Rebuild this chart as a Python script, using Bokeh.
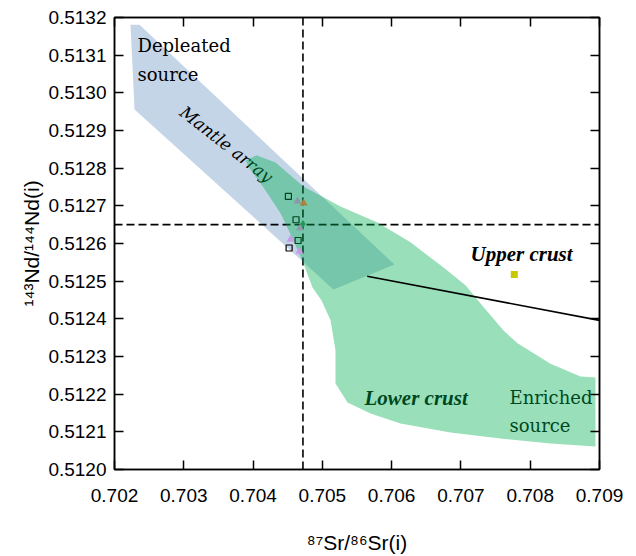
import math
from bokeh.plotting import figure
from bokeh.models import (Range1d, FixedTicker, LinearAxis, NumeralTickFormatter,
                          CustomJSTickFormatter)
from bokeh.core.properties import value
from bokeh.embed import file_html
from bokeh.resources import INLINE

# ---------------- data ----------------
x_ticks = [0.702, 0.703, 0.704, 0.705, 0.706, 0.707, 0.708, 0.709]
y_ticks = [0.5120, 0.5121, 0.5122, 0.5123, 0.5124, 0.5125, 0.5126,
           0.5127, 0.5128, 0.5129, 0.5130, 0.5131, 0.5132]
x_title = "⁸⁷Sr/⁸⁶Sr(i)"
y_title = "¹⁴³Nd/¹⁴⁴Nd(i)"

# mantle array field (outline)
mantle_sr = [0.702231, 0.702361, 0.706041, 0.705161, 0.702289]
mantle_nd = [0.513181, 0.513181, 0.512544, 0.512478, 0.512956]

# crustal field (outline)
crust_sr = [0.703891, 0.704050, 0.704324, 0.704728, 0.705262, 0.705796, 0.706272,
            0.706749, 0.707066, 0.707283, 0.707614, 0.707817, 0.708293, 0.708726,
            0.708942, 0.708942, 0.708293, 0.707571, 0.706850, 0.706128, 0.705695,
            0.705363, 0.705190, 0.705190, 0.705118, 0.704988, 0.704858, 0.704728,
            0.704584, 0.704396, 0.704151, 0.703949]
crust_nd = [0.512820, 0.512834, 0.512815, 0.512751, 0.512698, 0.512656, 0.512603,
            0.512536, 0.512489, 0.512441, 0.512369, 0.512335, 0.512281, 0.512247,
            0.512244, 0.512061, 0.512069, 0.512082, 0.512098, 0.512122, 0.512149,
            0.512178, 0.512228, 0.512316, 0.512396, 0.512449, 0.512483, 0.512547,
            0.512608, 0.512680, 0.512749, 0.512799]

# samples
square_sr = [0.70451, 0.70462, 0.70465, 0.70452]
square_nd = [0.512725, 0.512663, 0.512608, 0.512588]
gray_sr = [0.70464, 0.70468]
gray_nd = [0.512712, 0.512641]
orange_sr = [0.70473]
orange_nd = [0.512707]
violet_sr = [0.70454, 0.70467]
violet_nd = [0.512611, 0.512579]
green_sr = [0.70472]
green_nd = [0.512652]
upper_crust_sr = [0.70777]
upper_crust_nd = [0.512518]

# mixing line
mix_sr = [0.705647, 0.709]
mix_nd = [0.512513, 0.512396]

# reference (dashed) lines
ref_sr = 0.70472
ref_nd = 0.51265
x_lim = [0.702, 0.709]
y_lim = [0.5120, 0.5132]

# ---------------- figure ----------------
p = figure(width=636, height=556, output_backend="svg", toolbar_location=None,
           x_range=Range1d(x_lim[0], x_lim[1]), y_range=Range1d(y_lim[0], y_lim[1]),
           min_border_left=114, min_border_right=37, min_border_top=17,
           min_border_bottom=87)
p.background_fill_color = "white"
p.border_fill_color = "white"
p.grid.visible = False
p.outline_line_color = "black"
p.outline_line_width = 1.5

tick_font = "Liberation Sans"

def style_axis(ax):
    ax.axis_line_color = "black"
    ax.axis_line_width = 1.5
    ax.major_tick_line_color = "black"
    ax.major_tick_line_width = 1.5
    ax.major_tick_in = 9
    ax.major_tick_out = 0
    ax.minor_tick_line_color = None
    ax.major_label_text_font = tick_font
    ax.major_label_text_font_size = "19px"
    ax.major_label_text_color = "black"

p.xaxis.ticker = FixedTicker(ticks=x_ticks)
p.xaxis.formatter = NumeralTickFormatter(format="0.000")
p.yaxis.ticker = FixedTicker(ticks=y_ticks)
p.yaxis.formatter = NumeralTickFormatter(format="0.0000")
for ax in p.xaxis + p.yaxis:
    style_axis(ax)
p.xaxis.major_label_standoff = 19
p.yaxis.major_label_standoff = 8

p.xaxis.axis_label = x_title
p.yaxis.axis_label = y_title
for ax in p.xaxis + p.yaxis:
    ax.axis_label_text_font = "Liberation Sans"
    ax.axis_label_text_font_size = "21px"
    ax.axis_label_text_font_style = "normal"
    ax.axis_label_text_color = "black"
p.xaxis.axis_label_standoff = 26
p.yaxis.axis_label_standoff = 2

top = LinearAxis(ticker=FixedTicker(ticks=x_ticks),
                 formatter=CustomJSTickFormatter(code="return ''"))
right = LinearAxis(ticker=FixedTicker(ticks=y_ticks),
                   formatter=CustomJSTickFormatter(code="return ''"))
for ax in (top, right):
    style_axis(ax)
    ax.major_label_text_font_size = "0px"
    ax.major_label_standoff = 0
p.add_layout(top, "above")
p.add_layout(right, "right")

# ---------------- glyphs (drawing order matters) ----------------
p.patch(mantle_sr, mantle_nd, fill_color="#c5d5e8", line_color=None)

p.line([ref_sr, ref_sr], y_lim, line_color="black", line_width=1.6, line_dash="8 4")
p.line(x_lim, [ref_nd, ref_nd], line_color="black", line_width=1.6, line_dash="8 4")

serif = value("DejaVu Serif")
p.text(x=[0.703616], y=[0.512863], text=["Mantle array"], angle=[-38 * math.pi / 180],
       text_font=serif, text_font_style="italic", text_font_size=value("17px"),
       text_align="center", text_baseline="middle", text_color="black")
p.text(x=[0.705608], y=[0.512191], text=["Lower crust"],
       text_font=value("Liberation Serif"), text_font_style="bold italic",
       text_font_size=value("21px"), text_align="left", text_baseline="alphabetic",
       text_color="black")
p.text(x=[0.707701, 0.707701], y=[0.512191, 0.512117], text=["Enriched", "source"],
       text_font=serif, text_font_size=value("18px"), text_align="left",
       text_baseline="alphabetic", text_color="black")

p.scatter(square_sr, square_nd, marker="square", size=6, fill_color=None,
          line_color="black", line_width=1.2)

p.patch(crust_sr, crust_nd, fill_color="#00b050", fill_alpha=0.4, line_color=None)

p.scatter(gray_sr, gray_nd, marker="triangle", size=8, fill_color="#8a98a8",
          line_color=None)
p.scatter(orange_sr, orange_nd, marker="triangle", size=8, fill_color="#a8843c",
          line_color=None)
p.scatter(violet_sr, violet_nd, marker="triangle", size=8, fill_color="#c89be6",
          line_color=None)
p.scatter(green_sr, green_nd, marker="diamond", size=8, fill_color="#1f9a55",
          line_color=None)

p.line(mix_sr, mix_nd, line_color="black", line_width=1.6)
p.scatter(upper_crust_sr, upper_crust_nd, marker="square", size=7,
          fill_color="#c8c800", line_color=None)

p.text(x=[0.702332, 0.702332], y=[0.513126, 0.513049], text=["Depleated", "source"],
       text_font=serif, text_font_size=value("18px"), text_align="left",
       text_baseline="alphabetic", text_color="black")
p.text(x=[0.707138], y=[0.512573], text=["Upper crust"],
       text_font=value("Liberation Serif"), text_font_style="bold italic",
       text_font_size=value("21px"), text_align="left", text_baseline="alphabetic",
       text_color="black")

open("out.html", "w").write(file_html(p, INLINE))
